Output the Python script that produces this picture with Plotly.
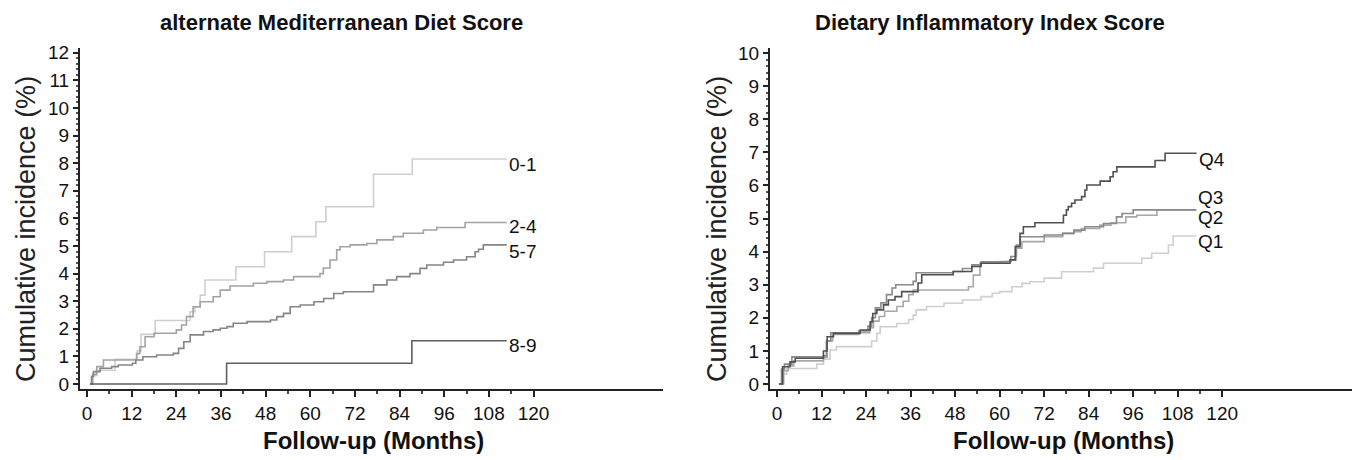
import plotly.graph_objects as go

# ---------------- Data: left panel (alternate Mediterranean Diet Score) ----------------
amed_groups = ["0-1", "2-4", "5-7", "8-9"]

amed_01_x = [1, 1.5, 2.5, 7.5, 13.5, 14.5, 18.3, 27.7, 29, 30.4, 31.7, 40, 47.7, 55, 61.5, 64.2, 77, 87.4, 112.8]
amed_01_y = [0, 0.3, 0.5, 0.9, 1.2, 1.8, 2.3, 2.62, 2.78, 3.22, 3.77, 4.25, 4.79, 5.34, 5.88, 6.42, 7.6, 8.15, 8.15]

amed_24_x = [0.8, 1.5, 2.6, 4.4, 13.3, 14.2, 15.6, 18, 24, 25.4, 26.7, 28.5, 30.4, 33.9, 35.8, 38.4, 44.7, 48.3,
             52.8, 55.5, 62.6, 63.5, 65.3, 67.1, 68, 70.7, 75.2, 77.9, 82.3, 85, 90.4, 94, 101.6, 112.8]
amed_24_y = [0, 0.35, 0.63, 0.87, 1.1, 1.35, 1.71, 1.84, 1.96, 2.14, 2.44, 2.8, 2.98, 3.16, 3.4, 3.55, 3.65, 3.71,
             3.77, 3.89, 4.0, 4.2, 4.49, 4.86, 4.97, 5.04, 5.09, 5.22, 5.34, 5.46, 5.58, 5.67, 5.85, 5.85]

amed_57_x = [0.8, 1.2, 1.7, 3.5, 6.6, 8.4, 12.2, 13.1, 15, 18.7, 23.2, 24.6, 26, 27.7, 31.3, 33.9, 35.8, 37.6,
             39.3, 43, 49.3, 51, 52.8, 54.6, 57.3, 61, 63.6, 66.3, 68.9, 77, 80.6, 83.2, 86.8, 89.5, 91.3, 95.8,
             98.5, 102, 104.3, 105.2, 106.5, 112.8]
amed_57_y = [0, 0.27, 0.45, 0.57, 0.63, 0.69, 0.75, 0.87, 0.99, 1.05, 1.11, 1.29, 1.53, 1.78, 1.9, 1.96, 2.02, 2.08,
             2.2, 2.26, 2.32, 2.44, 2.56, 2.8, 2.86, 2.98, 3.1, 3.28, 3.34, 3.59, 3.77, 3.89, 4.0, 4.19, 4.31, 4.41,
             4.49, 4.61, 4.79, 4.88, 5.04, 5.04]

amed_89_x = [0.8, 37.5, 87.3, 112.8]
amed_89_y = [0, 0.75, 1.57, 1.57]

amed_label_y = [7.95, 5.7, 4.8, 1.38]

# ---------------- Data: right panel (Dietary Inflammatory Index Score) ----------------
dii_groups = ["Q1", "Q2", "Q3", "Q4"]

dii_q1_x = [0.8, 1.5, 2.6, 10.7, 12.5, 14.3, 16, 25.5, 26.9, 27.8, 32.3, 35.5, 36.7, 37.5, 40.3, 45, 50, 55, 58,
            60, 63.3, 66, 68.2, 72, 76.7, 85.3, 88, 98.3, 101, 105.5, 106.8, 113]
dii_q1_y = [0, 0.3, 0.47, 0.6, 0.75, 1.03, 1.13, 1.3, 1.53, 1.73, 1.83, 1.95, 2.08, 2.24, 2.34, 2.44, 2.54, 2.64,
            2.74, 2.79, 2.94, 3.04, 3.09, 3.2, 3.39, 3.5, 3.65, 3.8, 3.95, 4.2, 4.47, 4.47]

dii_q2_x = [0.8, 1.8, 3, 4.5, 12.5, 13.5, 15, 22, 25, 26, 27.5, 29, 32.3, 34, 35.5, 36.7, 51.6, 52.9, 54.7, 60,
            63, 64.5, 66, 68, 72, 77, 80, 82, 87, 90, 94, 97, 102.4, 113]
dii_q2_y = [0, 0.4, 0.55, 0.7, 0.8, 1.3, 1.5, 1.55, 1.7, 1.9, 2.04, 2.2, 2.34, 2.5, 2.7, 2.84, 2.94, 3.29, 3.65, 3.7,
            3.75, 4.1, 4.3, 4.3, 4.45, 4.55, 4.6, 4.7, 4.8, 4.87, 5.05, 5.1, 5.26, 5.26]

dii_q3_x = [0.5, 1.2, 2, 4, 12.5, 13.3, 14.5, 22, 24.5, 25.5, 26.5, 28, 29.5, 31, 32, 36.7, 37.5, 47.5, 50, 52.5,
            55, 61.9, 63, 64.5, 65.5, 69.5, 72, 77, 80, 83, 88, 91.5, 93, 96, 113]
dii_q3_y = [0, 0.45, 0.6, 0.82, 0.85, 1.3, 1.55, 1.6, 1.75, 2.0, 2.3, 2.45, 2.7, 2.9, 3.0, 3.1, 3.36, 3.4, 3.49, 3.6,
            3.69, 3.7, 3.85, 4.2, 4.45, 4.45, 4.5, 4.55, 4.65, 4.75, 4.85, 5.05, 5.15, 5.26, 5.26]

dii_q4_x = [0.5, 1.5, 3.5, 4.9, 12.5, 13.5, 15.2, 22.4, 25.1, 25.8, 26.9, 28.7, 30, 31.8, 33.6, 38, 39, 47.5, 52.5,
            55, 62.8, 64.2, 65.5, 66.4, 69.5, 77.2, 78, 78.5, 79.4, 80.3, 82.1, 83, 83.5, 87.1, 89.8, 90.6, 91.6,
            101.9, 104.6, 113.1]
dii_q4_y = [0, 0.52, 0.67, 0.78, 1.0, 1.43, 1.53, 1.63, 1.88, 2.13, 2.24, 2.39, 2.54, 2.64, 2.79, 3.05, 3.3, 3.4,
            3.55, 3.65, 3.75, 4.15, 4.55, 4.75, 4.87, 5.1, 5.26, 5.36, 5.46, 5.56, 5.66, 5.86, 6.01, 6.13, 6.26, 6.41,
            6.56, 6.75, 6.97, 6.97]

dii_label_y = [4.3, 5.02, 5.62, 6.77]

x_ticks = [0, 12, 24, 36, 48, 60, 72, 84, 96, 108, 120]
x_minor = [6, 18, 30, 42, 54, 66, 78, 90, 102, 114]

# ---------------- Styling ----------------
FONT = "Liberation Sans, Arial, sans-serif"
amed_colors = ["#cfcfcf", "#a3a3a3", "#858585", "#5f5f5f"]
dii_colors = ["#cfcfcf", "#a8a8a8", "#8a8a8a", "#505050"]

# The page body adds an 8px offset; work in page pixels and convert.
OFF = 8
PAGE_W, PAGE_H = 1360, 460
W, H = PAGE_W - OFF, PAGE_H - OFF
PLOT_TOP_PAGE, PLOT_BOT_PAGE = 48, 389
M_T = PLOT_TOP_PAGE - OFF
M_B = H - (PLOT_BOT_PAGE - OFF)


def px(xp):
    return (xp - OFF) / W


def py(yp):
    return (PLOT_BOT_PAGE - yp) / (PLOT_BOT_PAGE - PLOT_TOP_PAGE)


fig = go.Figure()

amed_series = [(amed_01_x, amed_01_y), (amed_24_x, amed_24_y), (amed_57_x, amed_57_y), (amed_89_x, amed_89_y)]
for (xs, ys), name, col in zip(amed_series, amed_groups, amed_colors):
    fig.add_trace(go.Scatter(x=xs, y=ys, mode="lines", line=dict(shape="hv", color=col, width=1.6),
                             name=name, xaxis="x", yaxis="y", showlegend=False))

dii_series = [(dii_q1_x, dii_q1_y), (dii_q2_x, dii_q2_y), (dii_q3_x, dii_q3_y), (dii_q4_x, dii_q4_y)]
for (xs, ys), name, col in zip(dii_series, dii_groups, dii_colors):
    fig.add_trace(go.Scatter(x=xs, y=ys, mode="lines", line=dict(shape="hv", color=col, width=1.6),
                             name=name, xaxis="x2", yaxis="y2", showlegend=False))

annotations = []
for name, yv, (xs, _) in zip(amed_groups, amed_label_y, amed_series):
    annotations.append(dict(x=xs[-1], y=yv, xref="x", yref="y", text=name, showarrow=False,
                            xanchor="left", yanchor="middle", font=dict(size=19, color="#111")))
for name, yv, (xs, _) in zip(dii_groups, dii_label_y, dii_series):
    annotations.append(dict(x=xs[-1], y=yv, xref="x2", yref="y2", text=name, showarrow=False,
                            xanchor="left", yanchor="middle", font=dict(size=19, color="#111")))

# Panel titles
annotations.append(dict(x=px(341), y=py(22), xref="paper", yref="paper", text="<b>alternate Mediterranean Diet Score</b>",
                        showarrow=False, xanchor="center", yanchor="middle", font=dict(size=22, color="#111")))
annotations.append(dict(x=px(990), y=py(22), xref="paper", yref="paper", text="<b>Dietary Inflammatory Index Score</b>",
                        showarrow=False, xanchor="center", yanchor="middle", font=dict(size=22, color="#111")))
# X-axis titles
for cx in (373, 1063):
    annotations.append(dict(x=px(cx), y=py(440), xref="paper", yref="paper", text="<b>Follow-up (Months)</b>",
                            showarrow=False, xanchor="center", yanchor="middle", font=dict(size=24, color="#111")))
# Y-axis titles
for cx in (26, 717):
    annotations.append(dict(x=px(cx), y=py(229), xref="paper", yref="paper", text="Cumulative incidence (%)",
                            showarrow=False, xanchor="center", yanchor="middle", textangle=-90,
                            font=dict(size=27, color="#222")))

common_x = dict(tickmode="array", tickvals=x_ticks, ticks="outside", ticklen=6, tickwidth=1.5, tickcolor="#222",
                showline=True, linecolor="#222", linewidth=2, showgrid=False, zeroline=False,
                tickfont=dict(size=19, color="#111"),
                minor=dict(tickmode="array", tickvals=x_minor, ticks="outside", ticklen=3, tickcolor="#444",
                           showgrid=False))
common_y = dict(tickmode="linear", dtick=1, tick0=0, ticks="outside", ticklen=5, tickwidth=1.5, tickcolor="#222",
                showline=True, linecolor="#222", linewidth=2, showgrid=False, zeroline=False,
                tickfont=dict(size=19, color="#111"),
                minor=dict(dtick=0.2, tick0=0, ticks="outside", ticklen=2, tickcolor="#555", showgrid=False))

fig.update_layout(
    width=W, height=H,
    paper_bgcolor="white", plot_bgcolor="white",
    font=dict(family=FONT, color="#111"),
    margin=dict(l=0, r=0, t=M_T, b=M_B, pad=0),
    xaxis=dict(domain=[px(80), px(663)], range=[-1.9, 154.8], anchor="y", **common_x),
    yaxis=dict(domain=[0, 1], range=[-0.18, 12.17], anchor="x", **common_y),
    xaxis2=dict(domain=[px(770), min(1.0, px(1355))], range=[-1.9, 155.8], anchor="y2", **common_x),
    yaxis2=dict(domain=[0, 1], range=[-0.15, 10.15], anchor="x2", **common_y),
    annotations=annotations,
    showlegend=False,
)

fig.write_html("out.html")
